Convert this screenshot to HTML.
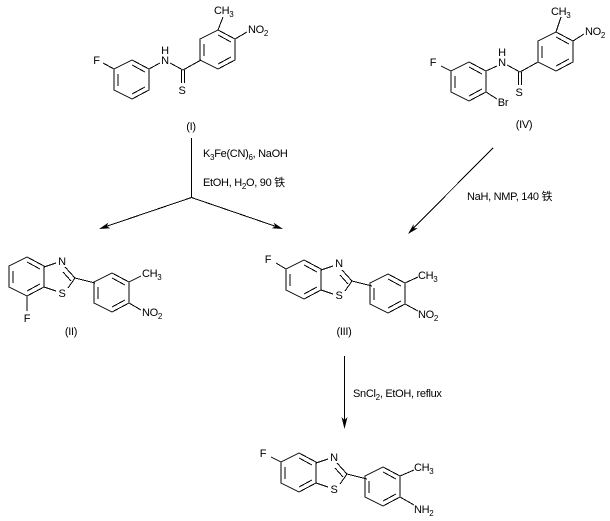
<!DOCTYPE html>
<html>
<head>
<meta charset="utf-8">
<style>
html,body{margin:0;padding:0;background:#fff;width:610px;height:521px;overflow:hidden}
svg{display:block}
text{font-family:"Liberation Sans","WenQuanYi Zen Hei","Noto Sans CJK SC",sans-serif;font-size:11px;fill:#000;letter-spacing:-0.3px}
.s{font-size:8px}
.m{text-anchor:middle}
</style>
</head>
<body>
<svg width="610" height="521" viewBox="0 0 610 521" xmlns="http://www.w3.org/2000/svg">
<defs>
<path id="ring" d="M-18 9L0 0L17 9V30L0 39L-18 30ZM-14 14V26M0 5L13 12M13 27L0 34"/>
<path id="thz" d="M17 10L29 6M38 10L48 21M36 15L44 24M41 31L48 21M17 30L29 34M48 21L68 26"/>
</defs>
<g fill="none" stroke="#000" stroke-width="1" shape-rendering="crispEdges">
<!-- I -->
<use href="#ring" x="132" y="60"/>
<use href="#ring" x="218" y="30"/>
<path d="M114 69L103 63M149 69L160 63M170 63L183 70L201 60M181.5 70V83M184.5 70V83M218 30L223 17M235 39L247 32"/>
<!-- IV -->
<use href="#ring" x="469" y="62"/>
<use href="#ring" x="556" y="32"/>
<path d="M451 71L441 66M486 71L497 66M507 65L520 72L538 62M518.5 72V85M521.5 72V85M556 32L561 17M573 41L584 34M486 92L497 99"/>
<!-- II -->
<use href="#ring" x="27" y="257"/>
<use href="#thz" x="27" y="257"/>
<use href="#ring" x="112" y="273"/>
<path d="M27 296V311M129 282L141 276M129 303L141 310"/>
<!-- III -->
<use href="#ring" x="304" y="260"/>
<use href="#thz" x="304" y="260"/>
<use href="#ring" x="388" y="274"/>
<path d="M286 269L276 263M405 283L418 277M405 304L418 311"/>
<!-- final -->
<use href="#ring" x="299" y="453"/>
<use href="#thz" x="299" y="453"/>
<use href="#ring" x="383" y="467"/>
<path d="M281 462L271 457M400 476L414 470M400 497L414 505"/>
<!-- arrows -->
<path d="M191.500 138V197.500M191.500 197.500L106 226.500M191.500 197.500L276 226.500M493 148L413 228.500M344.500 356V421"/>
</g>
<g fill="#000" stroke="none">
<polygon points="99,229 110.400,228.300 106.600,226.400 108.400,222.600"/>
<polygon points="283,229 271.600,228.200 275.400,226.400 273.600,222.600"/>
<polygon points="408,234 417.800,228.300 413.600,228.300 413.600,224.100"/>
<polygon points="344.500,429 341.500,417 344.500,420 347.500,417"/>
</g>

<!-- I labels -->
<text x="96.500" y="64" class="m">F</text>
<text x="165" y="64" class="m">N</text>
<text x="165" y="54" class="m">H</text>
<text x="182" y="94" class="m">S</text>
<text x="214" y="14">CH<tspan class="s" dy="3">3</tspan></text>
<text x="248" y="33">NO<tspan class="s" dy="3">2</tspan></text>
<text x="191" y="130" class="m">(I)</text>

<!-- IV labels -->
<text x="433" y="66" class="m">F</text>
<text x="502" y="66" class="m">N</text>
<text x="502" y="56" class="m">H</text>
<text x="519" y="96" class="m">S</text>
<text x="551" y="15">CH<tspan class="s" dy="3">3</tspan></text>
<text x="585" y="35">NO<tspan class="s" dy="3">2</tspan></text>
<text x="503" y="106" class="m">Br</text>
<text x="524" y="128" class="m">(IV)</text>

<!-- conditions -->
<text x="203" y="157">K<tspan class="s" dy="3">3</tspan><tspan dy="-3">Fe(CN)</tspan><tspan class="s" dy="3">6</tspan><tspan dy="-3">, NaOH</tspan></text>
<text x="203" y="186">EtOH, H<tspan class="s" dy="3">2</tspan><tspan dy="-3">O, 90 铁</tspan></text>
<text x="467" y="200">NaH, NMP, 140 铁</text>
<text x="353" y="397">SnCl<tspan class="s" dy="3">2</tspan><tspan dy="-3">, EtOH, reflux</tspan></text>

<!-- II labels -->
<text x="62" y="265" class="m">N</text>
<text x="62" y="297" class="m">S</text>
<text x="27" y="322" class="m">F</text>
<text x="142" y="277">CH<tspan class="s" dy="3">3</tspan></text>
<text x="142" y="316">NO<tspan class="s" dy="3">2</tspan></text>
<text x="71" y="335" class="m">(II)</text>

<!-- III labels -->
<text x="268" y="263" class="m">F</text>
<text x="339" y="267" class="m">N</text>
<text x="339" y="299" class="m">S</text>
<text x="418" y="279">CH<tspan class="s" dy="3">3</tspan></text>
<text x="418" y="318">NO<tspan class="s" dy="3">2</tspan></text>
<text x="344" y="335" class="m">(III)</text>

<!-- final labels -->
<text x="263" y="457" class="m">F</text>
<text x="334" y="461" class="m">N</text>
<text x="334" y="493" class="m">S</text>
<text x="414" y="471">CH<tspan class="s" dy="3">3</tspan></text>
<text x="414" y="513">NH<tspan class="s" dy="3">2</tspan></text>
</svg>
</body>
</html>
